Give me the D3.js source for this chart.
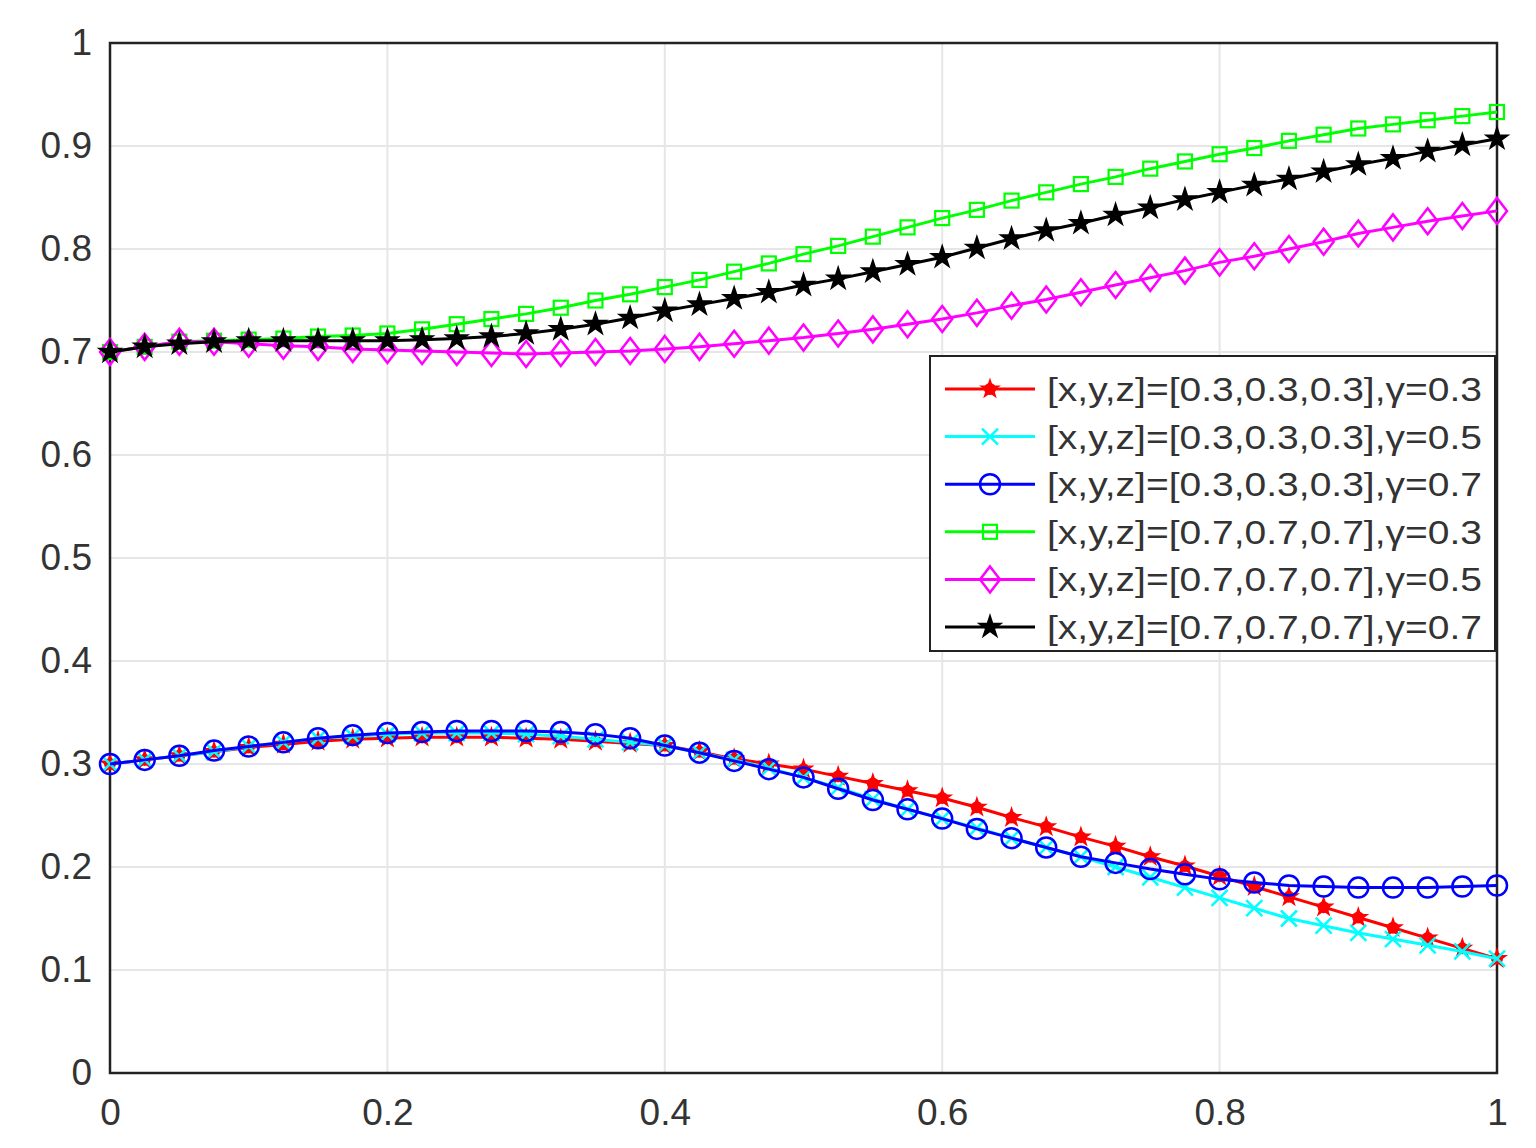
<!DOCTYPE html><html><head><meta charset="utf-8">
<script src="https://cdn.jsdelivr.net/npm/d3@7"></script>
<style>body{margin:0;background:#fff}text{font-family:"Liberation Sans",Arial,sans-serif}</style></head><body>
<svg id="c" width="1536" height="1148"></svg>
<script>
const xs = d3.range(41).map(i => i*0.025);
const red    = [0.300,0.304,0.308,0.312,0.316,0.319,0.322,0.324,0.325,0.326,0.326,0.326,0.325,0.324,0.322,0.320,0.318,0.312,0.305,0.300,0.295,0.288,0.281,0.274,0.267,0.258,0.248,0.239,0.229,0.220,0.210,0.201,0.191,0.181,0.171,0.161,0.151,0.141,0.131,0.121,0.111];
const cyan   = [0.300,0.304,0.308,0.312,0.317,0.321,0.325,0.327,0.329,0.330,0.330,0.330,0.329,0.327,0.324,0.321,0.318,0.311,0.304,0.296,0.287,0.277,0.266,0.256,0.247,0.238,0.228,0.219,0.210,0.200,0.190,0.180,0.170,0.160,0.150,0.143,0.136,0.130,0.124,0.118,0.111];
const blue   = [0.300,0.304,0.308,0.313,0.317,0.321,0.325,0.328,0.330,0.331,0.332,0.332,0.332,0.331,0.329,0.325,0.318,0.311,0.303,0.295,0.287,0.276,0.265,0.256,0.247,0.237,0.228,0.219,0.210,0.204,0.198,0.193,0.188,0.185,0.182,0.181,0.180,0.180,0.180,0.181,0.182];
const green  = [0.700,0.705,0.710,0.711,0.712,0.713,0.715,0.716,0.718,0.722,0.727,0.732,0.737,0.743,0.750,0.756,0.763,0.770,0.778,0.786,0.795,0.803,0.812,0.821,0.830,0.838,0.847,0.855,0.863,0.870,0.878,0.885,0.892,0.898,0.905,0.911,0.917,0.921,0.925,0.929,0.933];
const magenta= [0.700,0.705,0.710,0.710,0.708,0.706,0.705,0.703,0.702,0.701,0.700,0.699,0.698,0.699,0.700,0.701,0.703,0.705,0.708,0.711,0.714,0.718,0.722,0.727,0.732,0.738,0.745,0.751,0.758,0.765,0.772,0.779,0.787,0.793,0.800,0.807,0.815,0.821,0.827,0.832,0.837];
const black  = [0.700,0.705,0.708,0.710,0.711,0.711,0.711,0.711,0.711,0.712,0.713,0.715,0.718,0.722,0.727,0.733,0.740,0.746,0.752,0.758,0.765,0.771,0.778,0.785,0.792,0.801,0.810,0.818,0.825,0.833,0.840,0.848,0.855,0.862,0.868,0.875,0.882,0.888,0.895,0.901,0.907];
const labels = ["[x,y,z]=[0.3,0.3,0.3],γ=0.3","[x,y,z]=[0.3,0.3,0.3],γ=0.5","[x,y,z]=[0.3,0.3,0.3],γ=0.7","[x,y,z]=[0.7,0.7,0.7],γ=0.3","[x,y,z]=[0.7,0.7,0.7],γ=0.5","[x,y,z]=[0.7,0.7,0.7],γ=0.7"];
const xTicks = [0,0.2,0.4,0.6,0.8,1];
const yTicks = [0,0.1,0.2,0.3,0.4,0.5,0.6,0.7,0.8,0.9,1];

const series = [
 {v:red,c:"#ff0000",m:"ast"},{v:cyan,c:"#00ffff",m:"x"},{v:blue,c:"#0000ff",m:"o"},
 {v:green,c:"#00ff00",m:"sq"},{v:magenta,c:"#ff00ff",m:"dia"},{v:black,c:"#000000",m:"star"}];
const svg = d3.select("#c");
const x = d3.scaleLinear().domain([0,1]).range([110,1497]);
const y = d3.scaleLinear().domain([0,1]).range([1073,43]);
const g = svg.append("g");
g.selectAll(".gx").data(xTicks).join("line").attr("x1",d=>x(d)).attr("x2",d=>x(d)).attr("y1",43).attr("y2",1073).attr("stroke","#e6e6e6").attr("stroke-width",2);
g.selectAll(".gy").data(yTicks).join("line").attr("y1",d=>y(d)).attr("y2",d=>y(d)).attr("x1",110).attr("x2",1497).attr("stroke","#e6e6e6").attr("stroke-width",2);
const ax = svg.append("g").attr("transform","translate(0,1073)").call(d3.axisBottom(x).tickValues(xTicks).tickFormat(d=>d).tickSize(0).tickPadding(26));
const ay = svg.append("g").attr("transform","translate(110,0)").call(d3.axisLeft(y).tickValues(yTicks).tickFormat(d=>d).tickSize(0).tickPadding(18));
[ax,ay].forEach(a=>{a.select(".domain").remove();a.selectAll("text").attr("font-size",37).attr("fill","#333");});
svg.append("rect").attr("x",110).attr("y",43).attr("width",1387).attr("height",1030).attr("fill","none").attr("stroke","#222").attr("stroke-width",2.5);

function marker(sel,m,c,px,py){
  const s=sel.append("g").attr("transform",`translate(${px},${py})`);
  if(m==="ast"){s.append("path").attr("d",d3.symbol(d3.symbolStar,150)()).attr("fill",c);s.append("circle").attr("r",6).attr("fill",c);}
  else if(m==="x"){s.append("path").attr("d","M-8,-8L8,8M-8,8L8,-8").attr("stroke",c).attr("stroke-width",2.5);}
  else if(m==="o"){s.append("circle").attr("r",10).attr("fill","none").attr("stroke",c).attr("stroke-width",2.5);}
  else if(m==="sq"){s.append("rect").attr("x",-7).attr("y",-7).attr("width",14).attr("height",14).attr("fill","none").attr("stroke",c).attr("stroke-width",2.2);}
  else if(m==="dia"){s.append("path").attr("d","M0,-13L10,0L0,13L-10,0Z").attr("fill","none").attr("stroke",c).attr("stroke-width",2.5);}
  else if(m==="star"){s.append("path").attr("d",d3.symbol(d3.symbolStar,220)()).attr("fill",c);}
}
const line=d3.line().x((d,i)=>x(xs[i])).y(d=>y(d));
series.forEach(s=>{
  svg.append("path").attr("d",line(s.v)).attr("fill","none").attr("stroke",s.c).attr("stroke-width",3);
  const mg=svg.append("g");
  s.v.forEach((v,i)=>marker(mg,s.m,s.c,x(xs[i]),y(v)));
});
const lg=svg.append("g");
lg.append("rect").attr("x",930).attr("y",356).attr("width",565).attr("height",295).attr("fill","#fff").attr("stroke","#222").attr("stroke-width",2);
series.forEach((s,i)=>{
  const ly=389+i*47.6;
  lg.append("line").attr("x1",945).attr("x2",1035).attr("y1",ly).attr("y2",ly).attr("stroke",s.c).attr("stroke-width",3);
  marker(lg,s.m,s.c,990,ly);
  lg.append("text").attr("x",1047).attr("y",ly+12).attr("font-size",34).attr("textLength",435).attr("lengthAdjust","spacingAndGlyphs").attr("fill","#333").text(labels[i]);
});
</script></body></html>
